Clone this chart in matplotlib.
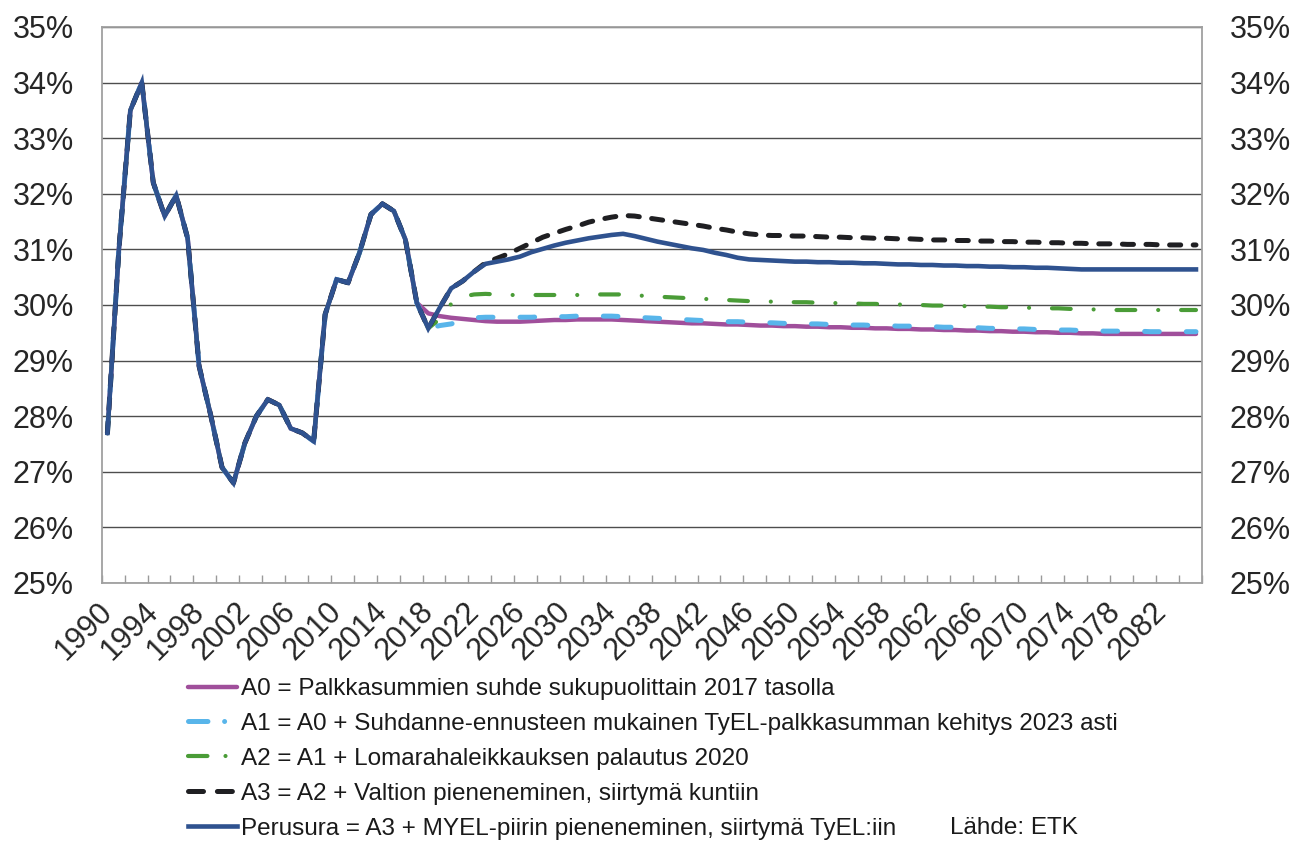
import numpy as np
import matplotlib
matplotlib.use("Agg")
import matplotlib.pyplot as plt
from matplotlib.lines import Line2D
from matplotlib.transforms import ScaledTranslation

plt.rcParams['font.family'] = ['Liberation Sans', 'DejaVu Sans']
plt.rcParams['lines.scale_dashes'] = False

# vuodet 1990-2085
years = list(range(1990, 2086))

# toteutunut 1990-2018 (yhteinen kaikille)
history = [27.70, 31.00, 33.50, 34.00, 32.20, 31.60, 31.97, 31.20, 28.90, 28.03,
           27.08, 26.80, 27.52, 28.00, 28.30, 28.20, 27.78, 27.70, 27.55, 29.83,
           30.46, 30.40, 30.94, 31.63, 31.82, 31.69, 31.18, 30.04, 29.58]

# ennusteet 2019-2085
perusura = [29.95, 30.30, 30.43, 30.60, 30.74, 30.78, 30.82, 30.87, 30.95, 31.01,   # 2019-2028
            31.07, 31.12, 31.16, 31.20, 31.23, 31.26, 31.28, 31.24, 31.19, 31.14,   # 2029-2038
            31.10, 31.06, 31.02, 30.99, 30.94, 30.90, 30.85, 30.82, 30.81, 30.80,   # 2039-2048
            30.79, 30.78, 30.78, 30.77, 30.77, 30.76, 30.76, 30.75, 30.75, 30.74,   # 2049-2058
            30.73, 30.73, 30.72, 30.72, 30.71, 30.71, 30.70, 30.70, 30.69, 30.69,   # 2059-2068
            30.68, 30.68, 30.67, 30.67, 30.66, 30.65, 30.64, 30.64, 30.64, 30.64,   # 2069-2078
            30.64, 30.64, 30.64, 30.64, 30.64, 30.64, 30.64]                        # 2079-2085

a3 = [29.95, 30.30, 30.43, 30.60, 30.76, 30.84, 30.92, 31.02, 31.12, 31.22,
      31.29, 31.36, 31.42, 31.49, 31.54, 31.58, 31.61, 31.60, 31.57, 31.54,
      31.51, 31.48, 31.45, 31.42, 31.38, 31.35, 31.31, 31.28, 31.26, 31.25,
      31.25, 31.24, 31.24, 31.23, 31.22, 31.22, 31.21, 31.21, 31.20, 31.20,
      31.19, 31.19, 31.18, 31.17, 31.17, 31.16, 31.16, 31.15, 31.15, 31.14,
      31.14, 31.13, 31.13, 31.12, 31.12, 31.11, 31.11, 31.10, 31.10, 31.10,
      31.09, 31.09, 31.09, 31.08, 31.08, 31.08, 31.08]

a2 = [29.75, 30.02, 30.15, 30.19, 30.20, 30.19, 30.18, 30.18, 30.18, 30.18,
      30.18, 30.18, 30.18, 30.19, 30.19, 30.19, 30.19, 30.18, 30.16, 30.15,
      30.14, 30.13, 30.12, 30.11, 30.10, 30.09, 30.08, 30.07, 30.07, 30.06,
      30.06, 30.05, 30.05, 30.04, 30.04, 30.03, 30.03, 30.02, 30.02, 30.01,
      30.01, 30.00, 30.00, 29.99, 29.99, 29.98, 29.98, 29.97, 29.97, 29.96,
      29.96, 29.95, 29.95, 29.94, 29.94, 29.93, 29.93, 29.92, 29.92, 29.91,
      29.91, 29.91, 29.91, 29.91, 29.91, 29.91, 29.91]

a1 = [29.63, 29.66, 29.72, 29.77, 29.78, 29.78, 29.78, 29.78, 29.78, 29.79,
      29.79, 29.79, 29.80, 29.80, 29.80, 29.80, 29.79, 29.78, 29.77, 29.76,
      29.75, 29.74, 29.73, 29.72, 29.71, 29.70, 29.70, 29.69, 29.68, 29.68,
      29.67, 29.67, 29.66, 29.66, 29.65, 29.65, 29.64, 29.64, 29.63, 29.63,
      29.62, 29.62, 29.61, 29.61, 29.60, 29.60, 29.59, 29.59, 29.58, 29.58,
      29.57, 29.57, 29.56, 29.56, 29.55, 29.55, 29.54, 29.54, 29.53, 29.53,
      29.53, 29.53, 29.52, 29.52, 29.52, 29.52, 29.52]

a0_2018 = 29.85
a0 = [29.80, 29.77, 29.75, 29.73, 29.71, 29.70, 29.70, 29.70, 29.71, 29.72,
      29.73, 29.73, 29.74, 29.74, 29.74, 29.74, 29.73, 29.72, 29.71, 29.70,
      29.69, 29.68, 29.67, 29.67, 29.66, 29.65, 29.65, 29.64, 29.63, 29.63,
      29.62, 29.62, 29.61, 29.61, 29.60, 29.60, 29.59, 29.59, 29.58, 29.58,
      29.57, 29.57, 29.56, 29.56, 29.55, 29.55, 29.54, 29.54, 29.53, 29.53,
      29.52, 29.52, 29.51, 29.51, 29.50, 29.50, 29.49, 29.49, 29.48, 29.48,
      29.48, 29.48, 29.48, 29.48, 29.48, 29.48, 29.48]

labels = ["A0 = Palkkasummien suhde sukupuolittain 2017 tasolla",
          "A1 = A0 + Suhdanne-ennusteen mukainen TyEL-palkkasumman kehitys 2023 asti",
          "A2 = A1 + Lomarahaleikkauksen palautus 2020",
          "A3 = A2 + Valtion pieneneminen, siirtymä kuntiin",
          "Perusura = A3 + MYEL-piirin pieneneminen, siirtymä TyEL:iin"]
colors = ["#A04F9B", "#58B5EA", "#4A9C37", "#1F1F22", "#2F528F"]

series = [history[:-1] + [a0_2018] + a0,
          history + a1,
          history + a2,
          history + a3,
          history + perusura]

fig = plt.figure(figsize=(12.93, 8.41), dpi=100)
ax = fig.add_axes([101.7 / 1293, 1 - 583 / 841, 1100 / 1293, 556 / 841])

x = np.arange(len(years))
ax.plot(x, series[0], color=colors[0], lw=3.2, solid_capstyle='round')
ax.plot(x, series[1], color=colors[1], lw=3.6, dashes=(10.5, 19.5), dash_capstyle='round')
ax.plot(x, series[2], color=colors[2], lw=3.0, dashes=(13.5, 16.5, 0.01, 16.5), dash_capstyle='round')
ax.plot(x, series[3], color=colors[3], lw=3.6, dashes=(8, 9), dash_capstyle='round')
ax.plot(x, series[4], color=colors[4], lw=3.3, solid_joinstyle='miter')

ax.set_xlim(-0.5, len(years) - 0.5)
ax.set_ylim(25, 35)
ax.set_yticks(range(25, 36))
ax.set_yticklabels([f"{v}%" for v in range(25, 36)])
ax.grid(axis='y', color='#4d4d4d', lw=1.0)
ax.set_axisbelow(True)
ax.tick_params(axis='y', length=0, labelsize=22, pad=20, labelright=True, colors='#262626')

lab_pos = list(range(0, 93, 4))
ax.set_xticks(lab_pos)
ax.set_xticklabels([str(years[i]) for i in lab_pos], rotation=45, ha='right',
                   va='top', rotation_mode='anchor')
ax.tick_params(axis='x', length=0, labelsize=22, pad=10, colors='#262626')
shift = ScaledTranslation(-10 / 100, 0, fig.dpi_scale_trans)
for t in ax.get_xticklabels():
    t.set_transform(t.get_transform() + shift)
ax.set_xticks(np.arange(-0.5, len(years), 2), minor=True)
ax.tick_params(axis='x', which='minor', direction='in', length=6, width=1, color='#9a9a9a')

for s in ax.spines.values():
    s.set_color('#a0a0a0')
    s.set_linewidth(1.3)

handles = [Line2D([], [], color=colors[0], lw=3.2, solid_capstyle='round'),
           Line2D([], [], color=colors[1], lw=3.6, dashes=(14, 12, 0.01, 30), dash_capstyle='round'),
           Line2D([], [], color=colors[2], lw=3.0, dashes=(14, 13, 0.01, 30), dash_capstyle='round'),
           Line2D([], [], color=colors[3], lw=3.6, dashes=(10.8, 10), dash_capstyle='round'),
           Line2D([], [], color=colors[4], lw=3.3)]
fig.legend(handles, labels, loc='upper left', bbox_to_anchor=(188 / 1293, 1 - 678 / 841),
           frameon=False, fontsize=17.5, handlelength=2.0, handletextpad=0.2,
           labelspacing=0.53, borderpad=0, borderaxespad=0, labelcolor='#1a1a1a')
fig.text(950 / 1293, 1 - 828 / 841, "Lähde: ETK", fontsize=17.5, va='center', color='#1a1a1a')

fig.savefig("out.png", dpi=100)
